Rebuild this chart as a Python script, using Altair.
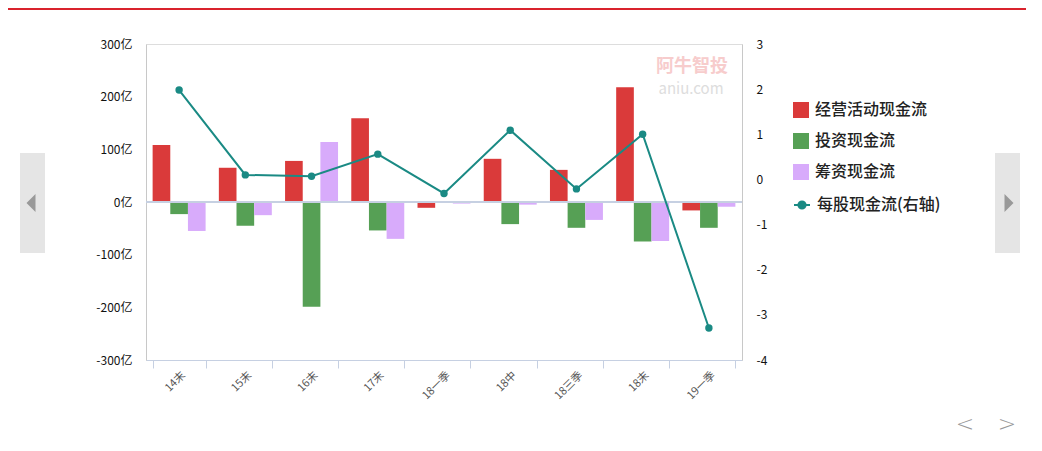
import altair as alt
import pandas as pd

# ---- data ----
categories = ["14末", "15末", "16末", "17末", "18一季", "18中", "18三季", "18末", "19一季"]
series_names = ["经营活动现金流", "投资现金流", "筹资现金流"]
operating = [108, 65, 78, 159, -11, 82, 61, 218, -16]
investing = [-23, -45, -199, -54, -1, -42, -49, -75, -49]
financing = [-55, -25, 114, -70, -3, -5, -34, -74, -9]
eps_name = "每股现金流(右轴)"
eps = [1.98, 0.10, 0.07, 0.56, -0.31, 1.09, -0.21, 1.00, -3.29]
left_ticks = [-300, -200, -100, 0, 100, 200, 300]
right_ticks = [-4, -3, -2, -1, 0, 1, 2, 3]

bar_colors = ["#da3a3a", "#56a055", "#d8abfb"]
line_color = "#1a8a84"
FONT = "Noto Sans CJK SC"

rows = []
for s, vals in zip(series_names, [operating, investing, financing]):
    for c, v in zip(categories, vals):
        rows.append({"cat": c, "series": s, "value": v})
bars_df = pd.DataFrame(rows)
line_df = pd.DataFrame({"cat": categories, "eps": eps, "name": [eps_name] * len(categories)})
one = pd.DataFrame({"d": [0]})

x_enc = alt.X(
    "cat:N",
    sort=categories,
    scale=alt.Scale(paddingInner=0.2, paddingOuter=0.1),
    axis=alt.Axis(
        title=None, labelAngle=315, labelAlign="right", labelBaseline="top",
        labelPadding=1, tickBand="extent", tickSize=8, tickColor="#c6d0e2",
        domainColor="#c6d0e2", labelFontSize=11, labelColor="#555555", labelFont=FONT,
    ),
)

bars = alt.Chart(bars_df).mark_bar().encode(
    x=x_enc,
    xOffset=alt.XOffset("series:N", sort=series_names,
                        scale=alt.Scale(paddingInner=0, paddingOuter=0)),
    y=alt.Y(
        "value:Q",
        scale=alt.Scale(domain=[-300, 300], nice=False),
        axis=alt.Axis(
            title=None, values=left_ticks, labelExpr="datum.value + '亿'", grid=False,
            ticks=False, labelPadding=14, domainColor="#c8c8c8", labelFontSize=12,
            labelColor="#111111", labelFont=FONT,
        ),
    ),
    fill=alt.Fill(
        "series:N", sort=series_names,
        scale=alt.Scale(domain=series_names, range=bar_colors),
        legend=alt.Legend(
            title=None, orient="none", legendX=647, legendY=58, symbolType="square",
            symbolSize=256, symbolStrokeWidth=0, labelFontSize=16, labelFont=FONT,
            labelFontWeight=500, labelColor="#222222", rowPadding=15, labelOffset=6,
        ),
    ),
)

zero = alt.Chart(one).mark_rule(color="#c6d0e2", strokeWidth=2).encode(y=alt.datum(0))

line = alt.Chart(line_df).mark_line(strokeWidth=2).encode(
    x=alt.X("cat:N", sort=categories),
    y=alt.Y(
        "eps:Q",
        scale=alt.Scale(domain=[-4, 3], nice=False),
        axis=alt.Axis(
            title=None, values=right_ticks, labelExpr="'' + datum.value", grid=False,
            ticks=False, labelPadding=14, domainColor="#c8c8c8", labelFontSize=12,
            labelColor="#111111", labelFont=FONT, orient="right",
        ),
    ),
    stroke=alt.Stroke(
        "name:N",
        scale=alt.Scale(domain=[eps_name], range=[line_color]),
        legend=alt.Legend(
            title=None, orient="none", legendX=647, legendY=152,
            symbolType="M-1,0H1M-0.45,0A0.45,0.45 0 1 1 0.45,0A0.45,0.45 0 1 1 -0.45,0",
            symbolSize=256, symbolStrokeWidth=2, symbolFillColor=line_color,
            labelFontSize=16, labelFont=FONT, labelFontWeight=500,
            labelColor="#222222", labelOffset=6,
        ),
    ),
)
points = alt.Chart(line_df).mark_point(filled=True, size=55, opacity=1, color=line_color).encode(
    x=alt.X("cat:N", sort=categories),
    y=alt.Y("eps:Q"),
)
line_layer = alt.layer(line, points)

# ---- page decorations around the chart ----
deco = []
deco.append(alt.Chart(one).mark_rule(color="#d9232d", strokeWidth=2).encode(
    x=alt.value(-140), x2=alt.value(880), y=alt.value(-35)))
for x0 in (-126, 849):
    deco.append(alt.Chart(one).mark_rect(color="#e5e5e5").encode(
        x=alt.value(x0), x2=alt.value(x0 + 25), y=alt.value(109), y2=alt.value(209)))
deco.append(alt.Chart(one).mark_point(
    shape="M0.5,-1L-0.5,0L0.5,1Z", size=324, filled=True, color="#999999", opacity=1
).encode(x=alt.value(-115), y=alt.value(159)))
deco.append(alt.Chart(one).mark_point(
    shape="M-0.5,-1L0.5,0L-0.5,1Z", size=324, filled=True, color="#999999", opacity=1
).encode(x=alt.value(863), y=alt.value(159)))
for xa, t in ((819, "<"), (861, ">")):
    deco.append(alt.Chart(one).mark_text(
        text=t, fontSize=22, color="#999999", font="DejaVu Sans", fontWeight=200,
        align="center", baseline="middle"
    ).encode(x=alt.value(xa), y=alt.value(380)))
deco.append(alt.Chart(one).mark_text(
    text="阿牛智投", fontSize=18, color="#f7cccc", font=FONT, fontWeight="bold",
    align="center", baseline="middle").encode(x=alt.value(546), y=alt.value(23)))
deco.append(alt.Chart(one).mark_text(
    text="aniu.com", fontSize=15, color="#dddddd", font=FONT,
    align="center", baseline="middle").encode(x=alt.value(545), y=alt.value(45)))

chart = alt.layer(
    alt.layer(bars, zero), line_layer, *deco
).resolve_scale(
    y="independent"
).properties(
    width=596, height=316,
    autosize=alt.AutoSizeParams(type="none"),
    padding={"left": 138, "top": 36, "right": 292, "bottom": 83},
).configure_view(
    stroke="#c8c8c8"
).configure(background="white")

chart.save("out.html", embed_options={"renderer": "svg", "actions": False})
